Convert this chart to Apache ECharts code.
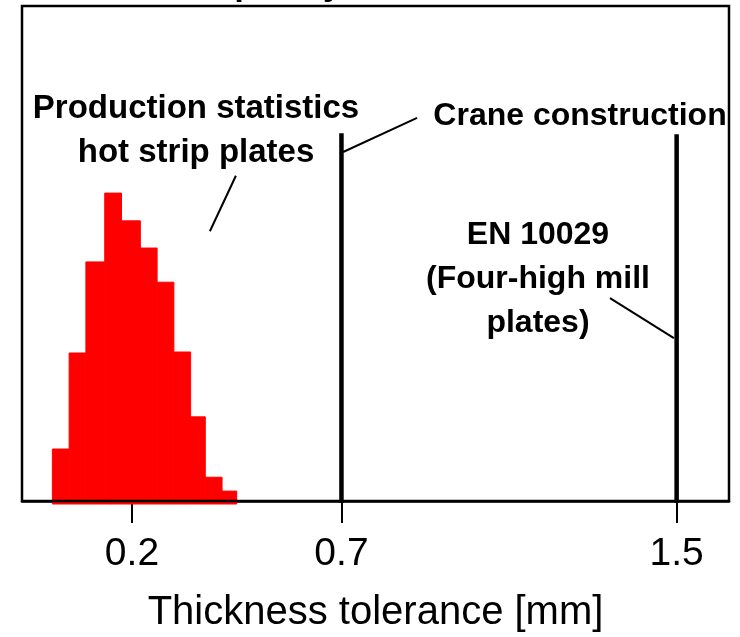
<!DOCTYPE html>
<html>
<head>
<meta charset="utf-8">
<script src="https://cdn.jsdelivr.net/npm/echarts@6/dist/echarts.min.js"></script>
<style>
  html, body { margin: 0; padding: 0; background: #fff; }
  #chart { width: 740px; height: 637px; }
</style>
</head>
<body>
<div id="chart"></div>
<script>
// Histogram bins (thickness tolerance, mm) and relative frequency
const binStart = [0.01, 0.05, 0.09, 0.135, 0.175, 0.22, 0.26, 0.30, 0.34, 0.375, 0.415];
const binEnd   = [0.05, 0.09, 0.135, 0.175, 0.22, 0.26, 0.30, 0.34, 0.375, 0.415, 0.45];
const freq     = [10.5, 29.9, 48.3, 62.2, 56.6, 51.1, 44.2, 30.1, 17.0, 4.8, 2.0];

// Tolerance limits (vertical lines) and their heights
const limitValues = [0.7, 1.5];
const limitTops   = [74.3, 74.1];

// Tick labels on x axis
const tickValues = [0.2, 0.7, 1.5];

// Annotation leader lines (data coordinates)
const leaders = [
  [[0.448, 65.7], [0.386, 54.5]],
  [[0.704, 70.5], [0.8805, 77.4]],
  [[1.341, 41.0], [1.4935, 32.9]]
];

const FONT = '"Liberation Sans", Arial, sans-serif';

const histData = binStart.map((s, i) => [s, binEnd[i], freq[i]]);
const limitData = limitValues.map((v, i) => [v, limitTops[i]]);

const chart = echarts.init(document.getElementById('chart'), null, { renderer: 'canvas' });

const option = {
  animation: false,
  backgroundColor: '#ffffff',
  grid: {
    left: 22, right: 11, top: 6, bottom: 136,
    outerBoundsMode: 'none',
    containLabel: false,
    show: true, z: 10,
    backgroundColor: 'transparent',
    borderColor: '#000', borderWidth: 2.5
  },
  xAxis: {
    type: 'value',
    min: -0.0625, max: 1.625,
    splitLine: { show: false },
    axisLine: { show: true, lineStyle: { color: '#000', width: 2.5 } },
    axisTick: {
      show: true, inside: false, length: 22, customValues: tickValues,
      lineStyle: { color: '#000', width: 2 }
    },
    axisLabel: {
      customValues: tickValues, fontSize: 39, color: '#000', margin: 34,
      fontFamily: FONT, formatter: v => v.toFixed(1)
    },
    name: 'Thickness tolerance [mm]',
    nameLocation: 'middle', nameGap: 92,
    nameTextStyle: { fontSize: 40, color: '#000', fontFamily: FONT }
  },
  yAxis: {
    type: 'value', min: 0, max: 100, show: false,
    splitLine: { show: false }
  },
  series: [
    {
      type: 'custom',
      name: 'Production statistics hot strip plates',
      data: histData,
      encode: { x: [0, 1], y: 2 },
      z: 2,
      renderItem: function (params, api) {
        const p0 = api.coord([api.value(0), api.value(2)]);
        const p1 = api.coord([api.value(1), 0]);
        return {
          type: 'rect',
          shape: { x: p0[0], y: p0[1], width: p1[0] - p0[0], height: p1[1] - p0[1] + 3 },
          style: { fill: '#ff0000', stroke: '#ff0000', lineWidth: 1 }
        };
      }
    },
    {
      type: 'custom',
      name: 'Limits',
      data: limitData,
      encode: { x: 0, y: 1 },
      z: 3,
      renderItem: function (params, api) {
        const top = api.coord([api.value(0), api.value(1)]);
        const bot = api.coord([api.value(0), 0]);
        return {
          type: 'line',
          shape: { x1: top[0], y1: top[1], x2: bot[0], y2: bot[1] + 2 },
          style: { stroke: '#000', lineWidth: 4.5 }
        };
      }
    },
    {
      type: 'lines',
      coordinateSystem: 'cartesian2d',
      z: 4,
      lineStyle: { color: '#000', width: 2, opacity: 1 },
      data: leaders.map(c => ({ coords: c }))
    }
  ],
  graphic: [
    {
      type: 'text', x: 256, y: 3,
      style: { text: 'Frequency', font: 'bold 34px ' + FONT, fill: '#000', textAlign: 'center', textVerticalAlign: 'bottom' }
    },
    {
      type: 'text', x: 196, y: 87,
      style: {
        text: 'Production statistics\nhot strip plates',
        font: 'bold 33px ' + FONT, lineHeight: 44, fill: '#000', textAlign: 'center'
      }
    },
    {
      type: 'text', x: 580, y: 94,
      style: { text: 'Crane construction', font: 'bold 32px ' + FONT, lineHeight: 44, fill: '#000', textAlign: 'center' }
    },
    {
      type: 'text', x: 538, y: 213,
      style: {
        text: 'EN 10029\n(Four-high mill\nplates)',
        font: 'bold 32px ' + FONT, lineHeight: 44, fill: '#000', textAlign: 'center'
      }
    }
  ]
};

chart.setOption(option);
</script>
</body>
</html>
